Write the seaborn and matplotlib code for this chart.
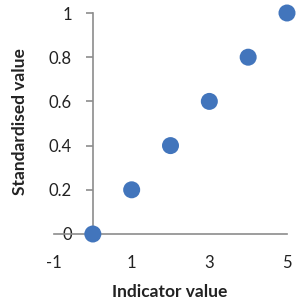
import matplotlib
matplotlib.use("Agg")
import matplotlib.pyplot as plt
import seaborn as sns
import pandas as pd

indicator = [0, 1, 2, 3, 4, 5]
standardised = [0, 0.2, 0.4, 0.6, 0.8, 1.0]
xticks = [-1, 1, 3, 5]
yticks = [0, 0.2, 0.4, 0.6, 0.8, 1]
ytick_labels = ["0", "0.2", "0.4", "0.6", "0.8", "1"]

sns.set_theme(style="white")
plt.rcParams['font.family'] = ['Lato', 'DejaVu Sans']

df = pd.DataFrame({"Indicator value": indicator, "Standardised value": standardised})

fig = plt.figure(figsize=(2.99, 3.06), dpi=100)
ax = fig.add_axes([54/299, (306-234)/306, (287-54)/299, (234-13)/306])

sns.scatterplot(data=df, x="Indicator value", y="Standardised value", ax=ax,
                s=150, color="#4275BC", edgecolor="none", clip_on=False, zorder=5)

ax.set_xlim(-1, 5)
ax.set_ylim(0, 1)
ax.set_xticks(xticks)
ax.set_xticklabels([str(t) for t in xticks])
ax.set_yticks(yticks)
ax.set_yticklabels(ytick_labels)

for s in ["top", "right"]:
    ax.spines[s].set_visible(False)
ax.spines["left"].set_position(("data", 0))
ax.spines["bottom"].set_position(("data", 0))
for s in ["left", "bottom"]:
    ax.spines[s].set_color("#8c8c8c")
    ax.spines[s].set_linewidth(1.2)

ax.tick_params(axis="x", length=0, pad=15, labelsize=12, colors="#222222")
ax.tick_params(axis="y", length=5, width=1.2, color="#8c8c8c", pad=10,
               labelsize=12, labelcolor="#222222", direction="out", left=True)

ax.set_xlabel("")
ax.set_ylabel("")
fig.text(170/299, 1 - 292/306, "Indicator value", ha="center", va="center",
         fontsize=12.5, fontweight="bold", color="#222222")
fig.text(20/299, 1 - 122/306, "Standardised value", ha="center", va="center",
         rotation=90, fontsize=12.5, fontweight="bold", color="#222222")

fig.savefig("out.png", dpi=100)
